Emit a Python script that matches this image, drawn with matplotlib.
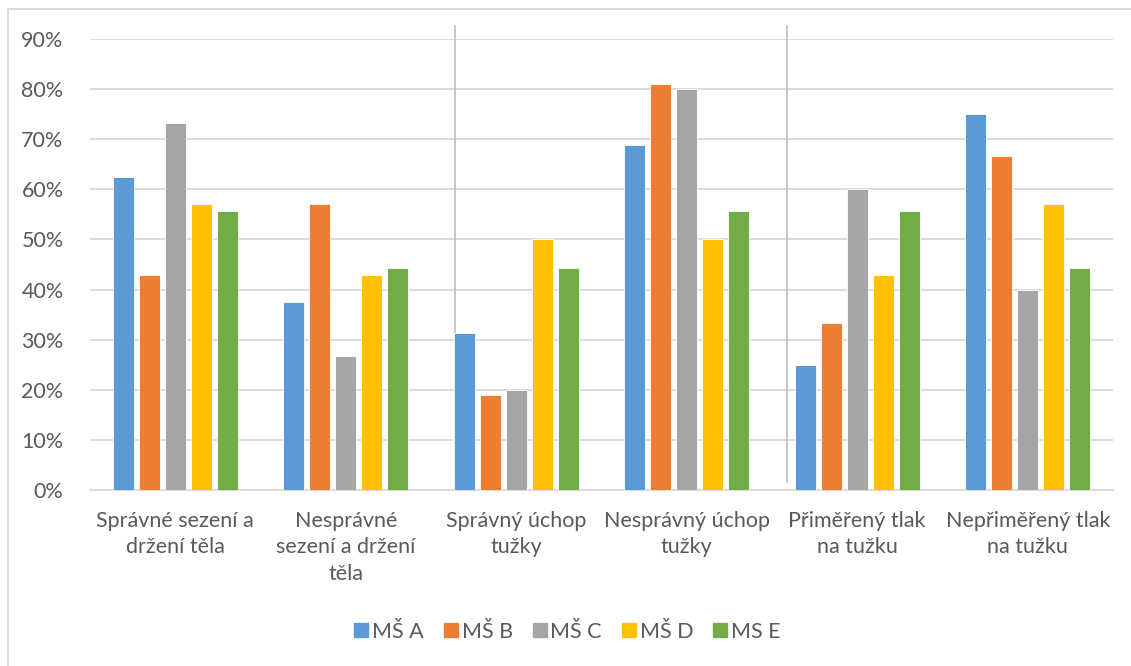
import matplotlib
matplotlib.use("Agg")
import matplotlib.pyplot as plt
import numpy as np
from matplotlib.lines import Line2D

categories = [
    "Správné sezení a\ndržení těla",
    "Nesprávné\nsezení a držení\ntěla",
    "Správný úchop\ntužky",
    "Nesprávný úchop\ntužky",
    "Přiměřený tlak\nna tužku",
    "Nepřiměřený tlak\nna tužku",
]
series_names = ["MŠ A", "MŠ B", "MŠ C", "MŠ D", "MS E"]
ms_a = [62.5, 37.5, 31.25, 68.75, 25.0, 75.0]
ms_b = [42.9, 57.1, 19.0, 81.0, 33.3, 66.7]
ms_c = [73.3, 26.7, 20.0, 80.0, 60.0, 40.0]
ms_d = [57.1, 42.9, 50.0, 50.0, 42.9, 57.1]
ms_e = [55.6, 44.4, 44.4, 55.6, 55.6, 44.4]
series = [ms_a, ms_b, ms_c, ms_d, ms_e]
colors = ["#5B9BD5", "#ED7D31", "#A5A5A5", "#FFC000", "#70AD47"]
yticks = [0, 10, 20, 30, 40, 50, 60, 70, 80, 90]

plt.rcParams['font.family'] = ['Lato', 'DejaVu Sans']
text_color = "#595959"
fs = 15.5

W, H = 1131, 666
fig = plt.figure(figsize=(W / 100, H / 100), dpi=100)
ax = fig.add_axes([90 / W, 1 - 490 / H, (1113 - 90) / W, (490 - 39) / H])

x = np.arange(len(categories))
step = 0.1525
width = 0.125
for i, (vals, c, name) in enumerate(zip(series, colors, series_names)):
    ax.bar(x + (i - 2) * step, vals, width=width, color=c, edgecolor="white",
           linewidth=0.6, label=name, zorder=3)

ax.set_xlim(-0.5, len(categories) - 0.5)
ax.set_ylim(0, 90)
ax.set_yticks(yticks)
ax.set_yticklabels([f"{t}%" for t in yticks])
ax.set_xticks(x)
ax.set_xticklabels(categories, linespacing=1.4)
ax.tick_params(axis="both", length=0, colors=text_color, labelsize=fs)
ax.tick_params(axis="y", pad=19)
ax.tick_params(axis="x", pad=15)
ax.yaxis.grid(True, color="#D9D9D9", linewidth=1.3, zorder=0)
for s in ["top", "right", "left"]:
    ax.spines[s].set_visible(False)
ax.spines["bottom"].set_color("#D9D9D9")
ax.spines["bottom"].set_linewidth(1.3)

# stray vertical separator lines seen in the reference
for xv in [1.64, 3.59]:
    ax.plot([xv, xv], [1.5, 92.5], color="#BFBFBF", linewidth=1.2, zorder=2, clip_on=False)

handles = [Line2D([], [], marker="s", linestyle="none", markersize=10,
                  markerfacecolor=c, markeredgecolor=c) for c in colors]
leg = fig.legend(handles, series_names, loc="center", bbox_to_anchor=(0.5, 1 - 632 / H),
                 ncol=5, frameon=False, fontsize=fs, handletextpad=0.0,
                 columnspacing=0.75, handlelength=1.0)
for t in leg.get_texts():
    t.set_color(text_color)

# chart area border (left and top visible)
fig.add_artist(Line2D([8 / W, 8 / W], [0, 1 - 9 / H], color="#D9D9D9", linewidth=1.3))
fig.add_artist(Line2D([8 / W, 1], [1 - 9 / H, 1 - 9 / H], color="#D9D9D9", linewidth=1.3))

fig.savefig("out.png", dpi=100)
